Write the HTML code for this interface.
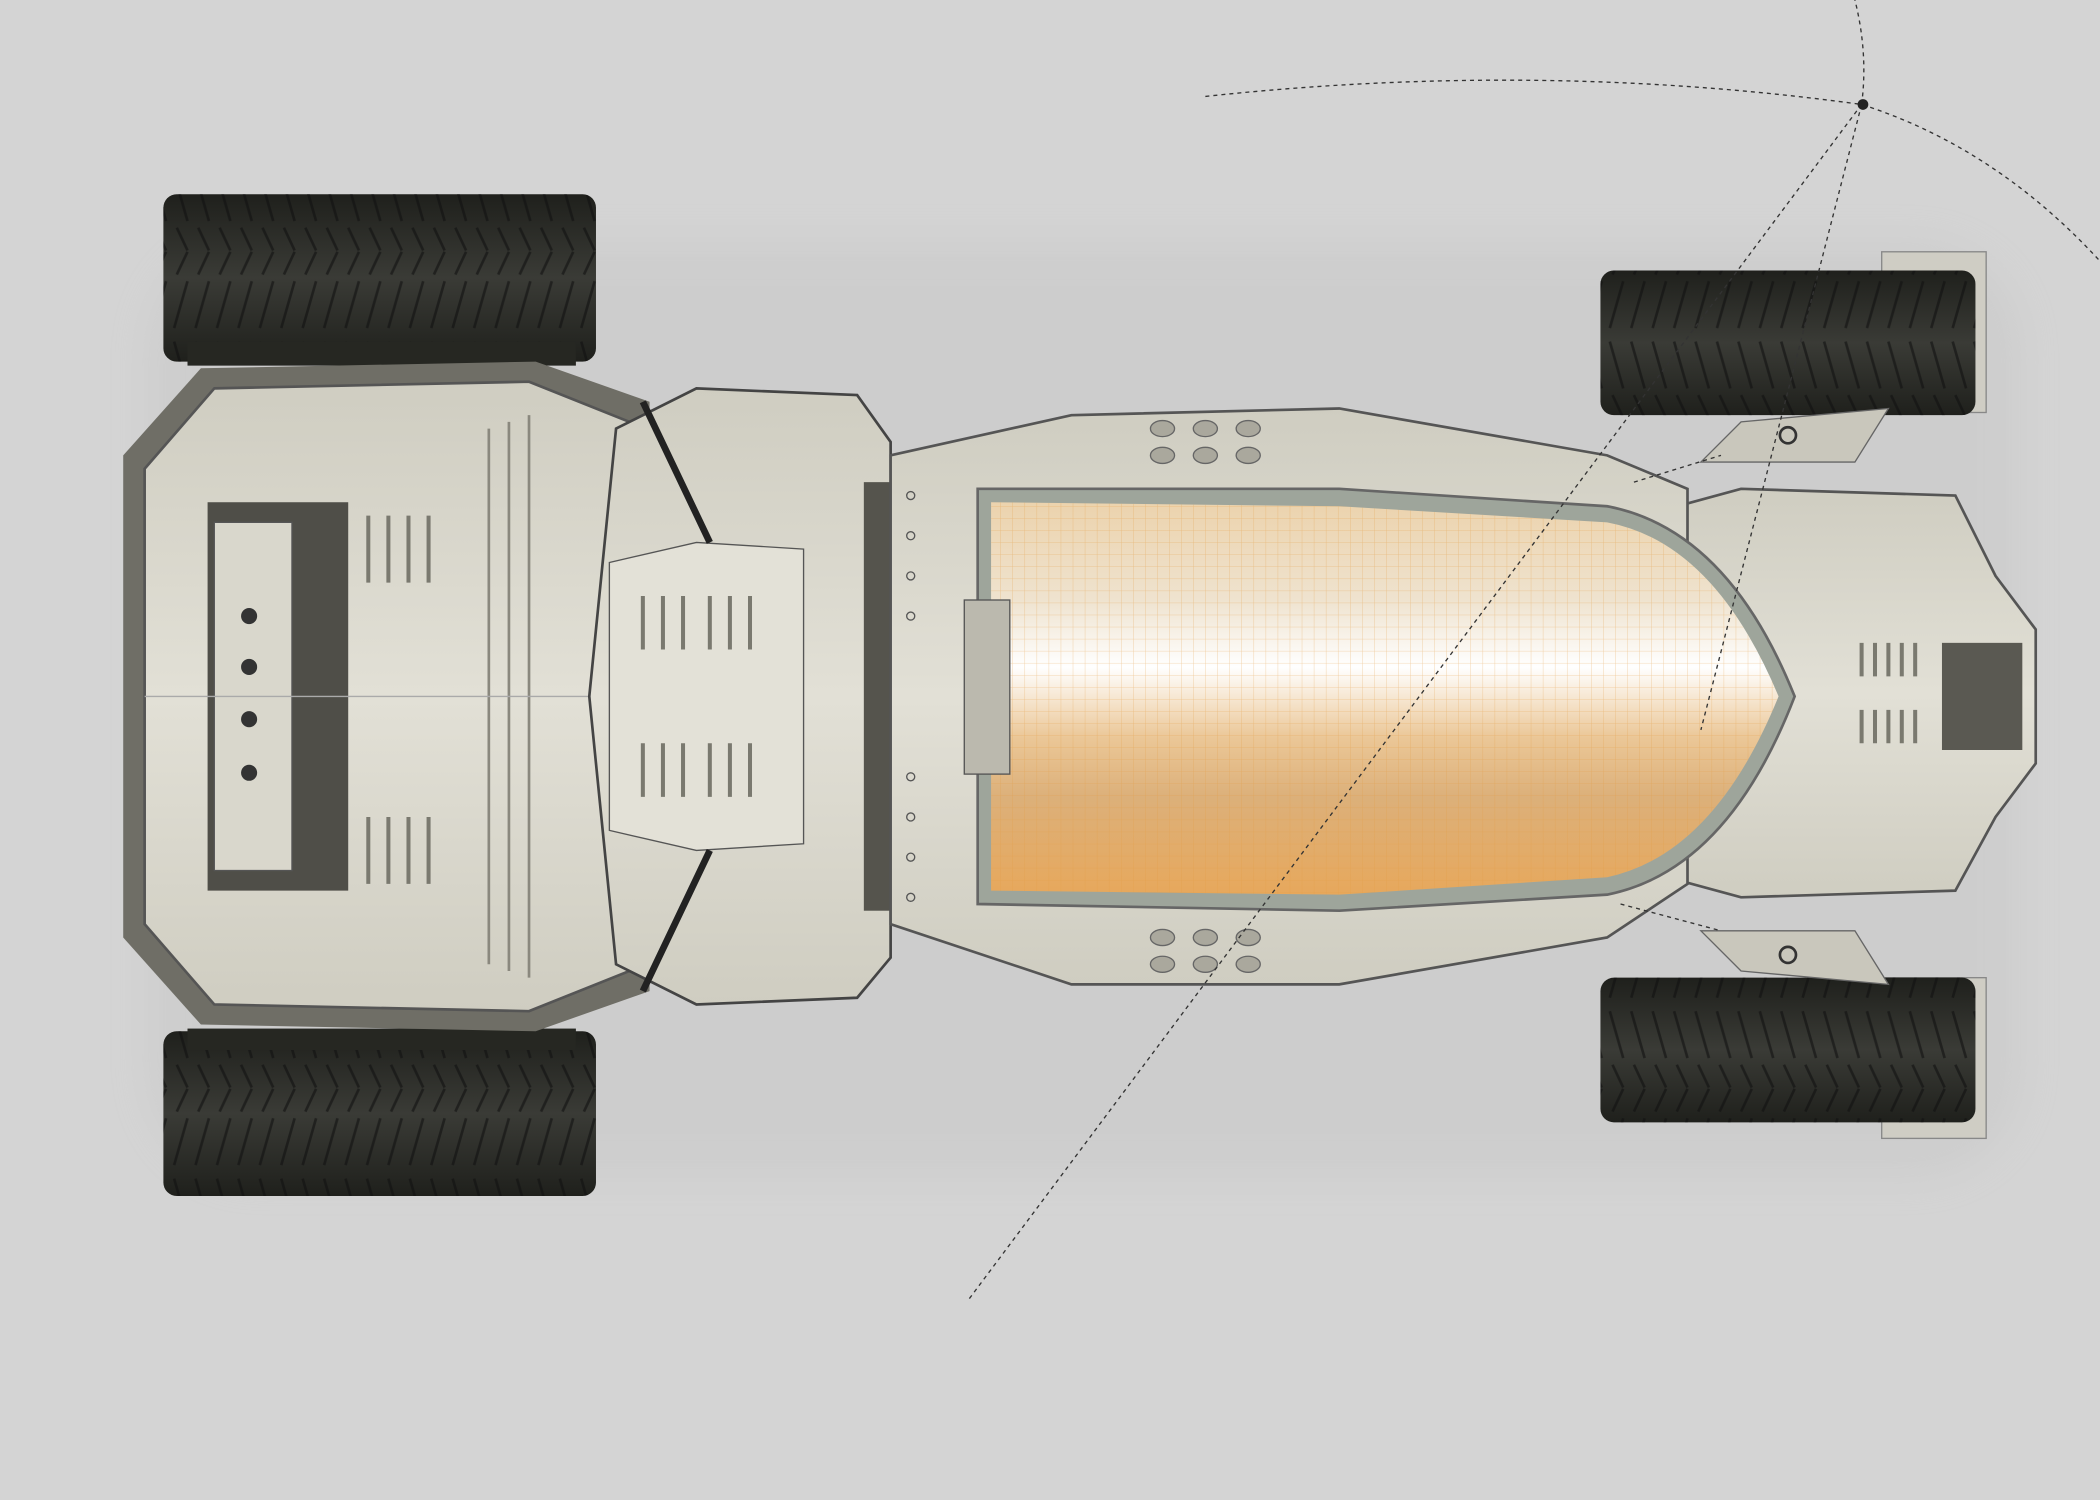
<!DOCTYPE html>
<html><head><meta charset="utf-8"><style>
html,body{margin:0;padding:0;background:#d4d4d4;}
svg{display:block;}
</style></head><body>
<svg width="2100" height="1500" viewBox="0 0 1568 1120" xmlns="http://www.w3.org/2000/svg">
<defs>
<linearGradient id="tire" x1="0" y1="0" x2="0" y2="1">
<stop offset="0" stop-color="#1f201c"/><stop offset="0.5" stop-color="#3a3b36"/><stop offset="1" stop-color="#1f201c"/></linearGradient>
<linearGradient id="canopy" x1="0" y1="0" x2="0" y2="1">
<stop offset="0" stop-color="#ecd3ad"/><stop offset="0.25" stop-color="#efe3cf"/><stop offset="0.42" stop-color="#ffffff"/><stop offset="0.6" stop-color="#ebc797"/><stop offset="0.75" stop-color="#dcb07a"/><stop offset="1" stop-color="#e7a85c"/></linearGradient>
<linearGradient id="body" x1="0" y1="0" x2="0" y2="1">
<stop offset="0" stop-color="#cfcdc1"/><stop offset="0.5" stop-color="#e2e0d6"/><stop offset="1" stop-color="#cfcdc1"/></linearGradient>
<pattern id="grid" width="9" height="9" patternUnits="userSpaceOnUse"><path d="M9 0H0V9" fill="none" stroke="#e39a40" stroke-width="0.6" opacity="0.5"/></pattern>
<pattern id="tread" width="16" height="125" patternUnits="userSpaceOnUse"><path d="M2 5 L12 40 M2 120 L12 85 M4 45 L12 62 M4 80 L12 63" stroke="#111" stroke-width="2" fill="none"/></pattern>
<filter id="sh" x="-10%" y="-10%" width="120%" height="120%"><feGaussianBlur stdDeviation="14"/></filter>
</defs>
<rect width="1568" height="1120" fill="#d4d4d4"/>
<rect x="110" y="180" width="1400" height="700" rx="80" fill="#bbb" opacity="0.25" filter="url(#sh)"/>
<!-- rear tires -->
<rect x="122" y="145" width="323" height="125" rx="10" fill="url(#tire)"/>
<rect x="122" y="145" width="323" height="125" rx="10" fill="url(#tread)" opacity="0.6"/>
<rect x="140" y="255" width="290" height="18" fill="#262722"/>
<rect x="122" y="770" width="323" height="123" rx="10" fill="url(#tire)"/>
<rect x="122" y="770" width="323" height="123" rx="10" fill="url(#tread)" opacity="0.6"/>
<rect x="140" y="768" width="290" height="16" fill="#262722"/>
<!-- front tires -->
<rect x="1405" y="188" width="78" height="120" fill="#cfcdc4" stroke="#888"/>
<rect x="1195" y="202" width="280" height="108" rx="10" fill="url(#tire)"/>
<rect x="1195" y="202" width="280" height="108" rx="10" fill="url(#tread)" opacity="0.6"/>
<rect x="1405" y="730" width="78" height="120" fill="#cfcdc4" stroke="#888"/>
<rect x="1195" y="730" width="280" height="108" rx="10" fill="url(#tire)"/>
<rect x="1195" y="730" width="280" height="108" rx="10" fill="url(#tread)" opacity="0.6"/>
<polygon points="1270,345 1300,315 1410,305 1385,345" fill="#c9c7bc" stroke="#666"/>
<polygon points="1270,695 1300,725 1410,735 1385,695" fill="#c9c7bc" stroke="#666"/>
<circle cx="1335" cy="325" r="6" fill="none" stroke="#333" stroke-width="2"/>
<circle cx="1335" cy="713" r="6" fill="none" stroke="#333" stroke-width="2"/>
<!-- rear body -->
<polygon points="150,275 400,270 485,300 485,740 400,770 150,765 92,700 92,340" fill="#6f6e66"/>
<polygon points="160,290 395,285 470,315 470,725 395,755 160,750 108,690 108,350" fill="url(#body)" stroke="#555" stroke-width="2"/>
<rect x="155" y="375" width="105" height="290" fill="#4f4e48"/>
<rect x="160" y="390" width="58" height="260" fill="#d9d7cc" stroke="#555"/>
<g fill="#333"><circle cx="186" cy="460" r="6"/><circle cx="186" cy="498" r="6"/><circle cx="186" cy="537" r="6"/><circle cx="186" cy="577" r="6"/></g>
<g stroke="#7a796f" stroke-width="3"><path d="M275 385v50M290 385v50M305 385v50M320 385v50M275 610v50M290 610v50M305 610v50M320 610v50"/></g>
<g stroke="#8a887e" stroke-width="2"><path d="M365 320v400M380 315v410M395 310v420"/></g>
<line x1="108" y1="520" x2="470" y2="520" stroke="#aaa"/>
<!-- mid section -->
<polygon points="460,320 520,290 640,295 665,330 665,715 640,745 520,750 460,720 440,520" fill="url(#body)" stroke="#444" stroke-width="2"/>
<polygon points="455,420 520,405 600,410 600,630 520,635 455,620" fill="#e3e1d7" stroke="#555"/>
<g stroke="#7a796f" stroke-width="3"><path d="M480 445v40M495 445v40M510 445v40M530 445v40M545 445v40M560 445v40M480 555v40M495 555v40M510 555v40M530 555v40M545 555v40M560 555v40"/></g>
<line x1="480" y1="300" x2="530" y2="405" stroke="#222" stroke-width="5"/>
<line x1="480" y1="740" x2="530" y2="635" stroke="#222" stroke-width="5"/>
<rect x="645" y="360" width="22" height="320" fill="#55544d"/>
<!-- nose (drawn first) -->
<path d="M1245 380 L1300 365 L1460 370 L1490 430 L1520 470 L1520 570 L1490 610 L1460 665 L1300 670 L1245 655 Z" fill="url(#body)" stroke="#555" stroke-width="2"/>
<rect x="1450" y="480" width="60" height="80" fill="#5a5952"/>
<g stroke="#7a796f" stroke-width="3"><path d="M1390 480v25M1400 480v25M1410 480v25M1420 480v25M1430 480v25M1390 530v25M1400 530v25M1410 530v25M1420 530v25M1430 530v25"/></g>
<!-- cockpit body -->
<path d="M665 340 L800 310 L1000 305 L1200 340 L1260 365 L1260 660 L1200 700 L1000 735 L800 735 L665 690 Z" fill="url(#body)" stroke="#555" stroke-width="2"/>
<path d="M730 365 L1000 365 L1200 378 Q1290 395 1340 520 Q1290 650 1200 668 L1000 680 L730 675 Z" fill="#9ea59b" stroke="#666" stroke-width="2"/>
<path d="M740 375 L1000 378 L1200 390 Q1280 405 1328 520 Q1280 638 1200 655 L1000 668 L740 665 Z" fill="url(#canopy)"/>
<path d="M740 375 L1000 378 L1200 390 Q1280 405 1328 520 Q1280 638 1200 655 L1000 668 L740 665 Z" fill="url(#grid)"/>
<rect x="720" y="448" width="34" height="130" fill="#bbb9ae" stroke="#555"/>
<g fill="#aaa89d" stroke="#666"><ellipse cx="868" cy="320" rx="9" ry="6"/><ellipse cx="900" cy="320" rx="9" ry="6"/><ellipse cx="932" cy="320" rx="9" ry="6"/><ellipse cx="868" cy="340" rx="9" ry="6"/><ellipse cx="900" cy="340" rx="9" ry="6"/><ellipse cx="932" cy="340" rx="9" ry="6"/>
<ellipse cx="868" cy="700" rx="9" ry="6"/><ellipse cx="900" cy="700" rx="9" ry="6"/><ellipse cx="932" cy="700" rx="9" ry="6"/><ellipse cx="868" cy="720" rx="9" ry="6"/><ellipse cx="900" cy="720" rx="9" ry="6"/><ellipse cx="932" cy="720" rx="9" ry="6"/></g>
<g fill="none" stroke="#555"><circle cx="680" cy="370" r="3"/><circle cx="680" cy="400" r="3"/><circle cx="680" cy="430" r="3"/><circle cx="680" cy="460" r="3"/><circle cx="680" cy="580" r="3"/><circle cx="680" cy="610" r="3"/><circle cx="680" cy="640" r="3"/><circle cx="680" cy="670" r="3"/></g>
<!-- dashed guides -->
<g fill="none" stroke="#333" stroke-width="1" stroke-dasharray="3,3">
<path d="M900 72 Q1150 45 1390 78 Q1490 110 1568 195"/>
<path d="M1390 78 Q1395 40 1385 0"/>
<path d="M1390 78 L722 972"/>
<path d="M1390 78 L1270 545"/>
<path d="M1220 360 L1285 340 M1210 675 L1285 695"/>
</g>
<circle cx="1391" cy="78" r="4" fill="#222"/>
</svg>
</body></html>
